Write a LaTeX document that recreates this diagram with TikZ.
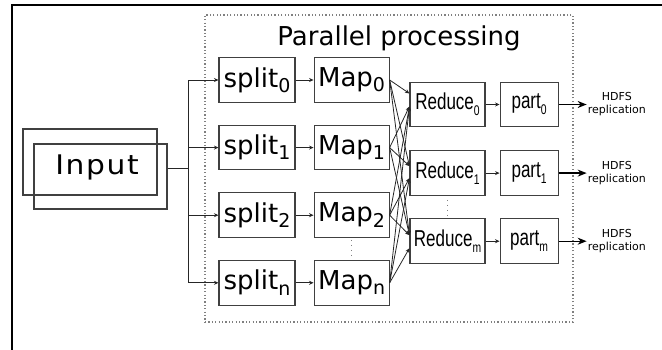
\documentclass[tikz,border=0pt]{standalone}
\usepackage{fontspec}
\setmainfont{DejaVu Sans}
\newfontfamily\narrowfont[FakeStretch=0.74]{Liberation Sans}
\newfontfamily\widefont[LetterSpace=6, FakeStretch=1.1]{DejaVu Sans}
\usetikzlibrary{positioning}
\usetikzlibrary{arrows.meta}
\newcommand{\idx}[1]{\raisebox{-0.2em}{\fontsize{19}{19}\selectfont #1}}
\newcommand{\nidx}[1]{\raisebox{-0.25em}{\fontsize{14}{14}\selectfont #1}}

\begin{document}
\begin{tikzpicture}[x=1pt, y=-1pt,
  main/.style = {draw=black!75, line width=1.1pt, inner sep=0pt, minimum height=44.5pt, font=\fontsize{26}{26}\selectfont},
  narrow/.style = {main, font=\narrowfont\fontsize{23}{23}\selectfont},
  hdfs/.style = {align=center, inner sep=1pt, font=\fontsize{11}{13}\selectfont},
  tip/.style = {-{Stealth[length=4.5pt, width=4pt]}, line width=0.8pt, black!85},
  bigtip/.style = {-{Stealth[length=9pt, width=7pt]}, line width=1.2pt},
  vdots/.style = {draw=black!50, line width=1.3pt, dash pattern=on 1.2pt off 3.8pt}]
    \useasboundingbox (0,0) rectangle (662,350);
    \draw[line width=2.2pt] (12,352) -- (12,5) -- (664,5);
    \node[draw=black!50, line width=1.2pt, dash pattern=on 1.2pt off 2.2pt, minimum width=368pt, minimum height=307pt] (par) at (389,168.5) {};
    \node[font=\fontsize{26}{26}\selectfont, anchor=base] (title) at (399,46) {Parallel processing};

    \node[draw=black!75, line width=1.1pt, minimum width=134pt, minimum height=66pt] (back) at (90,162) {};
    \node[draw=black!75, line width=1.1pt, minimum width=133pt, minimum height=65pt] (input) at (100.5,176.5) {};
    \node[font=\widefont\fontsize{27}{27}\selectfont, anchor=base] (inlabel) at (97,175) {Input};
    \coordinate (fork) at (188,168);

    \node[main, minimum width=76pt] (s0) at (257,80) {split\idx{0}};
    \node[main, minimum width=76pt] (s1) [below=22pt of s0] {split\idx{1}};
    \node[main, minimum width=76pt] (s2) [below=22pt of s1] {split\idx{2}};
    \node[main, minimum width=76pt] (sn) [below=22pt of s2] {split\idx{n}};
    \node[main, minimum width=75pt] (m0) [right=18pt of s0] {Map\idx{0}};
    \node[main, minimum width=75pt] (m1) [right=18pt of s1] {Map\idx{1}};
    \node[main, minimum width=75pt] (m2) [right=18pt of s2] {Map\idx{2}};
    \node[main, minimum width=75pt] (mn) [right=18pt of sn] {Map\idx{n}};

    \node[narrow, minimum width=75pt] (r0) at (447.5,104.5) {Reduce\nidx{0}};
    \node[narrow, minimum width=75pt] (r1) [below=23pt of r0] {Reduce\nidx{1}};
    \node[narrow, minimum width=75pt] (rm) [below=22.5pt of r1] {Reduce\nidx{m}};
    \node[narrow, minimum width=58pt] (p0) [right=14pt of r0] {part\nidx{0}};
    \node[narrow, minimum width=58pt] (p1) [right=14pt of r1] {part\nidx{1}};
    \node[narrow, minimum width=58pt] (pm) [right=14pt of rm] {part\nidx{m}};
    \node[hdfs, right=28pt of p0] (h0) {HDFS\\replication};
    \node[hdfs, right=28pt of p1] (h1) {HDFS\\replication};
    \node[hdfs, right=28pt of pm] (hm) {HDFS\\replication};

    \draw[line width=0.8pt, black!85] (input.east |- fork) -- (fork);
    \draw[tip] (fork) |- (s0);
    \draw[tip] (fork) |- (s1);
    \draw[tip] (fork) |- (s2);
    \draw[tip] (fork) |- (sn);
    \draw[tip] (s0) -- (m0);
    \draw[tip] (s1) -- (m1);
    \draw[tip] (s2) -- (m2);
    \draw[tip] (sn) -- (mn);
    \draw[tip] (m0.east) -- ([yshift=11pt]r0.west);
    \draw[tip] (m1.east) -- ([yshift=-2pt]r0.west);
    \draw[tip] (m2.east) -- ([yshift=-2pt]r0.west);
    \draw[tip] (mn.east) -- ([yshift=-2pt]r0.west);
    \draw[tip] (m0.east) -- ([yshift=7pt]r1.west);
    \draw[tip] (m1.east) -- ([yshift=7pt]r1.west);
    \draw[tip] (m2.east) -- ([yshift=-5pt]r1.west);
    \draw[tip] (mn.east) -- ([yshift=-5pt]r1.west);
    \draw[tip] (m0.east) -- ([yshift=6pt]rm.west);
    \draw[tip] (m1.east) -- ([yshift=6pt]rm.west);
    \draw[tip] (m2.east) -- ([yshift=6pt]rm.west);
    \draw[tip] (mn.east) -- ([yshift=-7pt]rm.west);
    \draw[tip] (r0) -- (p0);
    \draw[tip] (r1) -- (p1);
    \draw[tip] (rm) -- (pm);
    \draw[bigtip] (p0) -- (h0);
    \draw[bigtip] (p1) -- (h1);
    \draw[bigtip] (pm) -- (hm);
    \draw[vdots, shorten <=2pt, shorten >=3pt] (m2) -- (mn);
    \draw[vdots, shorten <=4pt, shorten >=3pt] (r1) -- (rm);
\end{tikzpicture}
\end{document}
